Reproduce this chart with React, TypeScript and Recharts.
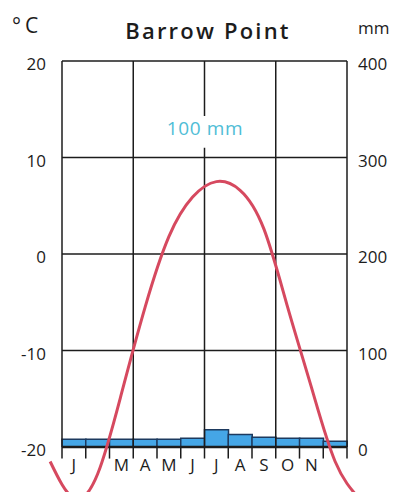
import {
  ComposedChart,
  Bar,
  Line,
  XAxis,
  YAxis,
  ReferenceLine,
} from "recharts"

// Barrow Point climate diagram
const MONTHS = ["J", "F", "M", "A", "M", "J", "J", "A", "S", "O", "N", "D"]
// F and D sit under the temperature curve in the original, so they are left blank
const HIDDEN_MONTHS = [1, 11]
const PRECIP_MM = [8, 8, 8, 8, 8, 9, 18, 13, 10, 9, 9, 6]
const TEMP_C = [-25.3, -22.8, -14.5, -5.5, 1.8, 5.9, 7.5, 6.6, 2.6, -5.5, -13.8, -21.5]
const TEMP_TICKS = [-20, -10, 0, 10, 20]
const PRECIP_TICKS = [0, 100, 200, 300, 400]
const QUARTERS = [0, 3, 6, 9, 12]
const MONTH_EDGES = [1, 2, 4, 5, 7, 8, 10, 11]

const INK = "#1c1c1c"
const FONT = "'Open Sans', 'Noto Sans', sans-serif"

const rows = MONTHS.map((m, i) => ({ month: m, precip: PRECIP_MM[i] }))

// the curve runs on past the year ends (Dec before, Jan after), as in the print
const curve = [
  { pos: -0.5, temp: TEMP_C[11] },
  ...TEMP_C.map((t, i) => ({ pos: i + 0.5, temp: t })),
  { pos: 12.5, temp: TEMP_C[0] },
]

function PrecipBar(props: any) {
  const { x, y, width, height } = props
  const bottom = y + height
  return (
    <g>
      <rect x={x} y={y} width={width} height={height} fill="#45a6e6" />
      <path
        d={`M${x},${bottom} V${y} H${x + width} V${bottom}`}
        fill="none"
        stroke="#1d3a5f"
        strokeWidth={1.5}
      />
    </g>
  )
}

const axisTick = { fill: INK, fontSize: 17, fontFamily: FONT, dy: 3 }

export default function App() {
  return (
    <div
      style={{
        position: "absolute",
        left: 0,
        top: 0,
        width: 403,
        height: 492,
        background: "#fff",
        fontFamily: FONT,
        color: INK,
        overflow: "hidden",
      }}
    >
      <style>{`.temp-curve, .temp-curve * { clip-path: none !important; }`}</style>

      <div style={{ position: "absolute", left: 12, top: 11, fontSize: 21, letterSpacing: 4 }}>
        °C
      </div>
      <div
        style={{
          position: "absolute",
          left: 0,
          width: 416,
          top: 15,
          textAlign: "center",
          fontSize: 22,
          fontWeight: 600,
          letterSpacing: 2.2,
        }}
      >
        Barrow Point
      </div>
      <div style={{ position: "absolute", left: 358, top: 16, fontSize: 17 }}>mm</div>

      <ComposedChart
        width={403}
        height={492}
        data={rows}
        margin={{ top: 61, right: 0, bottom: 0, left: 0 }}
        barCategoryGap={0}
        barGap={0}
      >
        <XAxis
          xAxisId="m"
          dataKey="month"
          interval={0}
          height={45}
          axisLine={false}
          tickLine={false}
          tickSize={0}
          tickMargin={12}
          tick={{ fill: INK, fontSize: 17, fontFamily: FONT }}
          tickFormatter={(v: string, i: number) => (HIDDEN_MONTHS.includes(i) ? "" : v)}
        />
        <XAxis xAxisId="n" type="number" dataKey="pos" domain={[0, 12]} allowDataOverflow hide />
        <YAxis
          yAxisId="t"
          domain={[-20, 20]}
          ticks={TEMP_TICKS}
          allowDataOverflow
          width={62}
          axisLine={false}
          tickLine={false}
          tickSize={0}
          tickMargin={16}
          tick={axisTick}
        />
        <YAxis
          yAxisId="p"
          orientation="right"
          domain={[0, 400]}
          ticks={PRECIP_TICKS}
          width={56}
          axisLine={false}
          tickLine={false}
          tickSize={0}
          tickMargin={11}
          tick={axisTick}
        />

        <Bar
          xAxisId="m"
          yAxisId="p"
          dataKey="precip"
          shape={<PrecipBar />}
          isAnimationActive={false}
        />

        {TEMP_TICKS.map((t) => (
          <ReferenceLine
            key={`h${t}`}
            xAxisId="n"
            yAxisId="t"
            y={t}
            stroke={INK}
            strokeWidth={t === -20 ? 2.5 : 1.5}
          />
        ))}
        {QUARTERS.map((q) =>
          q === 6 ? (
            [
              <ReferenceLine
                key="q6a"
                xAxisId="n"
                yAxisId="t"
                segment={[{ x: q, y: 20 }, { x: q, y: 14.3 }]}
                stroke={INK}
                strokeWidth={1.5}
                ifOverflow="visible"
              />,
              <ReferenceLine
                key="q6b"
                xAxisId="n"
                yAxisId="t"
                segment={[{ x: q, y: 11 }, { x: q, y: -21.2 }]}
                stroke={INK}
                strokeWidth={1.5}
                ifOverflow="visible"
              />,
            ]
          ) : (
            <ReferenceLine
              key={`q${q}`}
              xAxisId="n"
              yAxisId="t"
              segment={[{ x: q, y: 20 }, { x: q, y: -21.2 }]}
              stroke={INK}
              strokeWidth={1.5}
              ifOverflow="visible"
            />
          )
        )}
        {MONTH_EDGES.map((e) => (
          <ReferenceLine
            key={`e${e}`}
            xAxisId="n"
            yAxisId="t"
            segment={[{ x: e, y: -20 }, { x: e, y: -21.2 }]}
            stroke={INK}
            strokeWidth={1.5}
            ifOverflow="visible"
          />
        ))}

        <Line
          className="temp-curve"
          xAxisId="n"
          yAxisId="t"
          data={curve}
          dataKey="temp"
          type="natural"
          stroke="#d6495f"
          strokeWidth={3}
          dot={false}
          activeDot={false}
          isAnimationActive={false}
        />
      </ComposedChart>

      <div
        style={{
          position: "absolute",
          left: 145,
          width: 120,
          top: 115,
          textAlign: "center",
          fontSize: 19,
          letterSpacing: 0.6,
          color: "#4fbdd6",
        }}
      >
        100 mm
      </div>
    </div>
  )
}
